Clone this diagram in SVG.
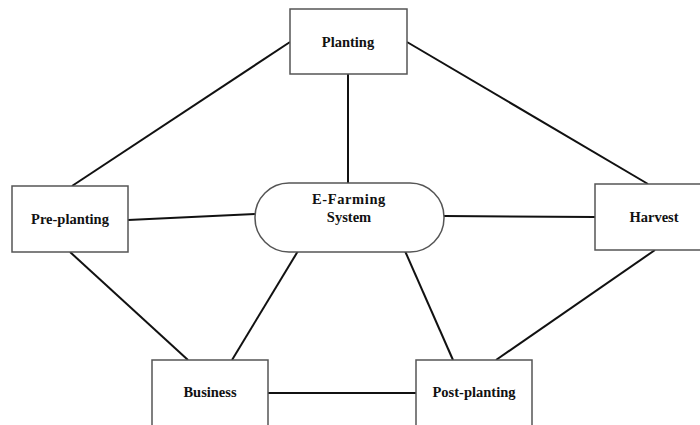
<svg xmlns="http://www.w3.org/2000/svg" width="700" height="425" viewBox="0 0 700 425">
<style>
.box{fill:#fff;stroke:#555;stroke-width:1.5}
.lbl{font-family:"Liberation Serif","Times New Roman",serif;font-weight:bold;font-size:14.5px;fill:#111;text-anchor:middle}
.con line{stroke:#111;stroke-width:2}
</style>
<rect width="700" height="425" fill="#fff"/>
<g class="con">
<line x1="290" y1="42" x2="72" y2="186"/>
<line x1="407" y1="42" x2="648" y2="184"/>
<line x1="348" y1="74" x2="348" y2="183"/>
<line x1="128" y1="220" x2="255" y2="214"/>
<line x1="444" y1="216" x2="595" y2="217"/>
<line x1="70" y1="252" x2="188" y2="360"/>
<line x1="298" y1="251" x2="232" y2="360"/>
<line x1="405" y1="251" x2="453" y2="360"/>
<line x1="655" y1="250" x2="496" y2="360"/>
<line x1="268" y1="393" x2="416" y2="393"/>
</g>
<g id="planting"><rect class="box" x="290" y="9" width="117" height="65"/><text class="lbl" x="348" y="47">Planting</text></g>
<g id="efarming"><rect class="box" x="255" y="183" width="189" height="69" rx="34" ry="34"/><text class="lbl" x="349" y="204" letter-spacing="0.6">E-Farming</text><text class="lbl" x="349" y="222">System</text></g>
<g id="preplanting"><rect class="box" x="12" y="186" width="116" height="66"/><text class="lbl" x="70" y="224">Pre-planting</text></g>
<g id="harvest"><rect class="box" x="595" y="184" width="118" height="66"/><text class="lbl" x="654" y="222">Harvest</text></g>
<g id="business"><rect class="box" x="152" y="360" width="116" height="70"/><text class="lbl" x="210" y="397">Business</text></g>
<g id="postplanting"><rect class="box" x="416" y="360" width="116" height="70"/><text class="lbl" x="474" y="397">Post-planting</text></g>
</svg>
